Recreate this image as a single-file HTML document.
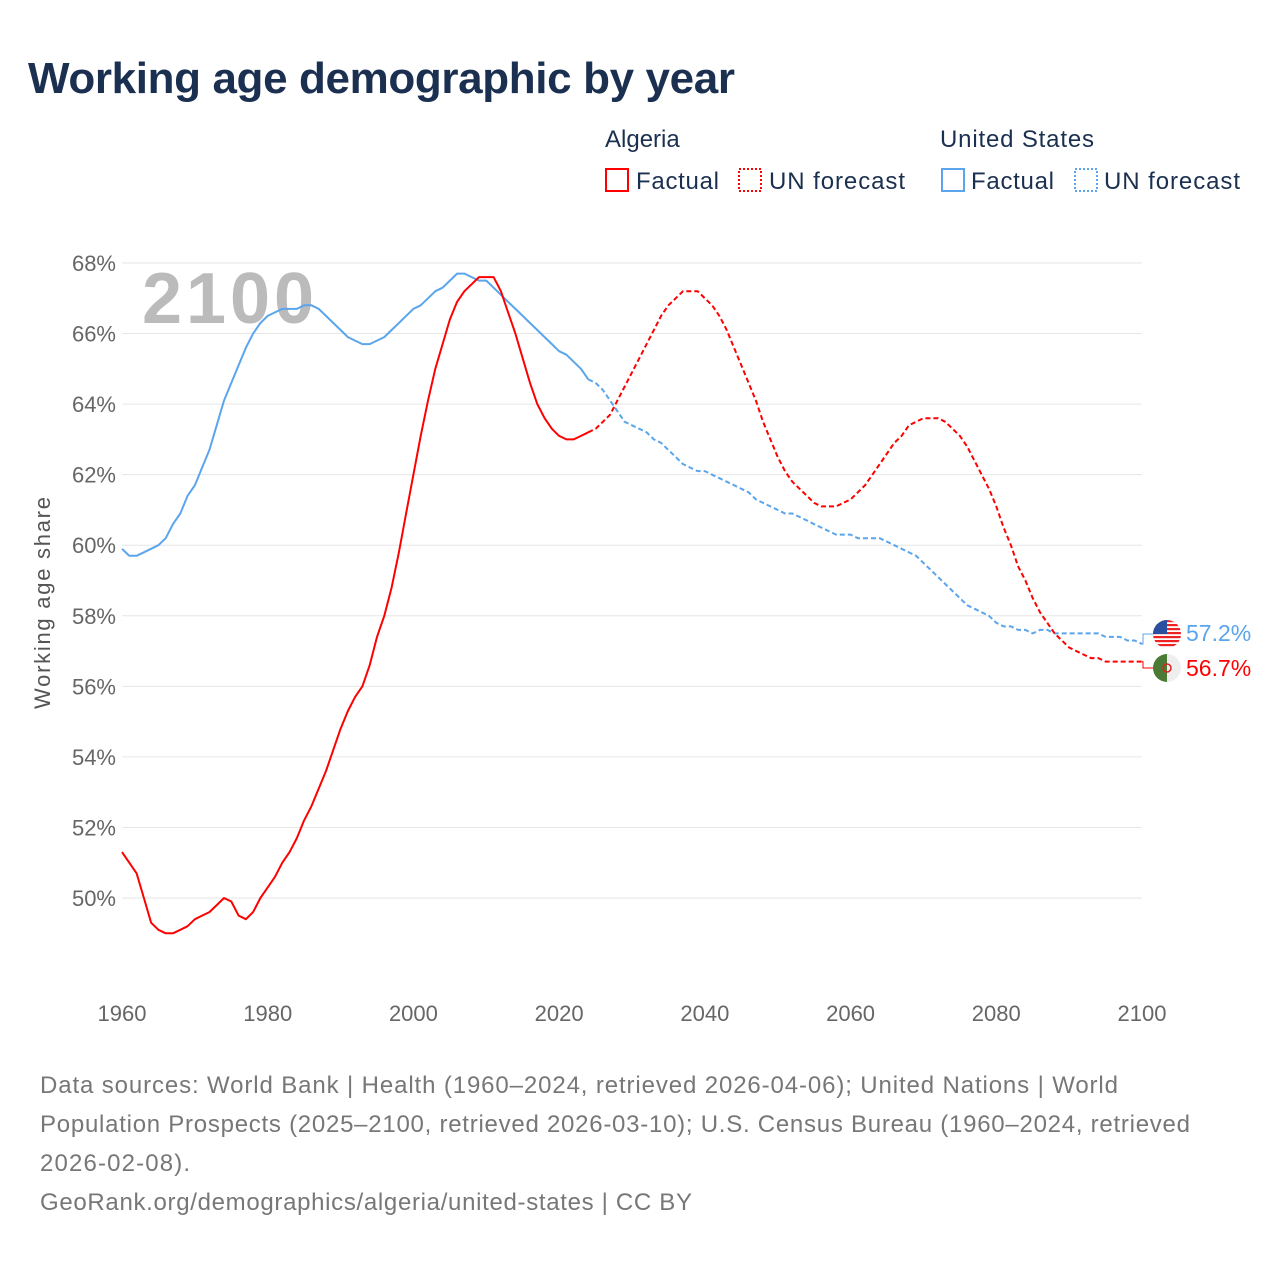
<!DOCTYPE html>
<html><head><meta charset="utf-8"><style>
body{margin:0;background:#fff;font-family:"Liberation Sans",sans-serif}
svg text{font-family:"Liberation Sans",sans-serif}
</style></head><body>
<svg id="chart" width="1280" height="1280" viewBox="0 0 1280 1280">
<text x="28" y="93" font-size="44" font-weight="bold" fill="#1b3050" textLength="707">Working age demographic by year</text>
<g font-size="24" fill="#1b3050">
<text x="605" y="147" fill="#1b3050">Algeria</text>
<text x="940" y="147" fill="#1b3050" textLength="154">United States</text>
<rect x="606" y="169" width="22" height="22" fill="none" stroke="#f00" stroke-width="2"/>
<text x="636" y="189" fill="#1b3050" textLength="83">Factual</text>
<rect x="739" y="169" width="22" height="22" fill="none" stroke="#f00" stroke-width="2" stroke-dasharray="2,2"/>
<text x="769" y="189" fill="#1b3050" textLength="136">UN forecast</text>
<rect x="942" y="169" width="22" height="22" fill="none" stroke="#5aa5ec" stroke-width="2"/>
<text x="971" y="189" fill="#1b3050" textLength="83">Factual</text>
<rect x="1075" y="169" width="22" height="22" fill="none" stroke="#5aa5ec" stroke-width="2" stroke-dasharray="2,2"/>
<text x="1104" y="189" fill="#1b3050" textLength="136">UN forecast</text>
</g>
<text x="142" y="323" font-size="72" font-weight="bold" fill="#bbb" textLength="172">2100</text>
<g id="grid"></g><g id="ticks"></g><g id="series"></g>
<text transform="translate(50,603) rotate(-90)" text-anchor="middle" font-size="22" fill="#555" textLength="212">Working age share</text>
<g font-size="24" fill="#777">
<text x="40" y="1093" fill="#777" textLength="1078">Data sources: World Bank | Health (1960–2024, retrieved 2026-04-06); United Nations | World</text>
<text x="40" y="1132" fill="#777" textLength="1150">Population Prospects (2025–2100, retrieved 2026-03-10); U.S. Census Bureau (1960–2024, retrieved</text>
<text x="40" y="1171" fill="#777" textLength="150">2026-02-08).</text>
<text x="40" y="1210" fill="#777" textLength="652">GeoRank.org/demographics/algeria/united-states | CC BY</text>
</g>
</svg>
<script>
const yTicks=[50,52,54,56,58,60,62,64,66,68];
const xTicks=[1960,1980,2000,2020,2040,2060,2080,2100];
const dzFactual=[51.3,51.0,50.7,50.0,49.3,49.1,49.0,49.0,49.1,49.2,49.4,49.5,49.6,49.8,50.0,49.9,49.5,49.4,49.6,50.0,50.3,50.6,51.0,51.3,51.7,52.2,52.6,53.1,53.6,54.2,54.8,55.3,55.7,56.0,56.6,57.4,58.0,58.8,59.8,60.9,62.0,63.1,64.1,65.0,65.7,66.4,66.9,67.2,67.4,67.6,67.6,67.6,67.2,66.6,66.0,65.3,64.6,64.0,63.6,63.3,63.1,63.0,63.0,63.1,63.2];
const dzForecast=[63.3,63.5,63.7,64.1,64.5,64.9,65.3,65.7,66.1,66.5,66.8,67.0,67.2,67.2,67.2,67.0,66.8,66.5,66.1,65.6,65.1,64.6,64.1,63.5,63.0,62.5,62.1,61.8,61.6,61.4,61.2,61.1,61.1,61.1,61.2,61.3,61.5,61.7,62.0,62.3,62.6,62.9,63.1,63.4,63.5,63.6,63.6,63.6,63.5,63.3,63.1,62.8,62.4,62.0,61.6,61.1,60.5,60.0,59.4,59.0,58.5,58.1,57.8,57.5,57.3,57.1,57.0,56.9,56.8,56.8,56.7,56.7,56.7,56.7,56.7,56.7];
const usFactual=[59.9,59.7,59.7,59.8,59.9,60.0,60.2,60.6,60.9,61.4,61.7,62.2,62.7,63.4,64.1,64.6,65.1,65.6,66.0,66.3,66.5,66.6,66.7,66.7,66.7,66.8,66.8,66.7,66.5,66.3,66.1,65.9,65.8,65.7,65.7,65.8,65.9,66.1,66.3,66.5,66.7,66.8,67.0,67.2,67.3,67.5,67.7,67.7,67.6,67.5,67.5,67.3,67.1,66.9,66.7,66.5,66.3,66.1,65.9,65.7,65.5,65.4,65.2,65.0,64.7];
const usForecast=[64.6,64.4,64.1,63.8,63.5,63.4,63.3,63.2,63.0,62.9,62.7,62.5,62.3,62.2,62.1,62.1,62.0,61.9,61.8,61.7,61.6,61.5,61.3,61.2,61.1,61.0,60.9,60.9,60.8,60.7,60.6,60.5,60.4,60.3,60.3,60.3,60.2,60.2,60.2,60.2,60.1,60.0,59.9,59.8,59.7,59.5,59.3,59.1,58.9,58.7,58.5,58.3,58.2,58.1,58.0,57.8,57.7,57.7,57.6,57.6,57.5,57.6,57.6,57.5,57.5,57.5,57.5,57.5,57.5,57.5,57.4,57.4,57.4,57.3,57.3,57.2];
const X=y=>122+(y-1960)*(1142-122)/140;
const Y=v=>898-(v-50)*(898-263)/18;
const NS='http://www.w3.org/2000/svg';
function mk(t,a,p){const e=document.createElementNS(NS,t);for(const k in a)e.setAttribute(k,a[k]);p.appendChild(e);return e;}
const grid=document.getElementById('grid'),ticks=document.getElementById('ticks'),series=document.getElementById('series');
yTicks.forEach(v=>{
 const l=mk('line',{x1:122,x2:1142,y1:Y(v),y2:Y(v),stroke:'#e6e6e6','stroke-width':1},grid);
 
 
 const t=mk('text',{x:116,y:Y(v)+8,'text-anchor':'end','font-size':22,fill:'#666'},ticks);
 t.textContent=v+'%';
 
 
});
xTicks.forEach(v=>{
 const t=mk('text',{x:X(v),y:1021,'text-anchor':'middle','font-size':22,fill:'#666'},ticks);
 t.textContent=v;
 
 
});
function line(arr,start,color,dash,name){
 const d=arr.map((v,i)=>(i?'L':'M')+X(start+i).toFixed(1)+','+Y(v).toFixed(1)).join('');
 const p=mk('path',{d:d,fill:'none',stroke:color,'stroke-width':2,'stroke-dasharray':dash||'none','stroke-linejoin':'round'},series);
 
 
}
line(usFactual,1960,'#5aa5ec',null,'us-factual-line');
line([usFactual[usFactual.length-1]].concat(usForecast),2024,'#5aa5ec','5,3','us-forecast-line');
line(dzFactual,1960,'#f00',null,'algeria-factual-line');
line([dzFactual[dzFactual.length-1]].concat(dzForecast),2024,'#f00','5,3','algeria-forecast-line');
const usEnd=usForecast[usForecast.length-1],dzEnd=dzForecast[dzForecast.length-1];
const c1=mk('path',{d:`M${X(2100)},${Y(usEnd)}H1143V634H1153`,fill:'none',stroke:'#5aa5ec','stroke-width':1},series);


const c2=mk('path',{d:`M${X(2100)},${Y(dzEnd)}H1143V668H1153`,fill:'none',stroke:'#f00','stroke-width':1},series);


const uf=mk('g',{},series);


mk('defs',{},uf).innerHTML='<clipPath id="cu"><circle cx="1167" cy="634" r="14"/></clipPath><clipPath id="ca"><circle cx="1167" cy="668" r="14"/></clipPath>';
const ug=mk('g',{'clip-path':'url(#cu)'},uf);
mk('rect',{x:1153,y:620,width:28,height:28,fill:'#fff'},ug);
for(let i=0;i<7;i++)mk('rect',{x:1153,y:620+i*4,width:28,height:2.2,fill:'#e22'},ug);
mk('rect',{x:1153,y:620,width:14,height:14,fill:'#2b4fa0'},ug);
const af=mk('g',{'clip-path':'url(#ca)'},series);


mk('rect',{x:1153,y:654,width:14,height:28,fill:'#4a7a35'},af);
mk('rect',{x:1167,y:654,width:14,height:28,fill:'#eee'},af);
mk('circle',{cx:1167,cy:668,r:4,fill:'none',stroke:'#d22','stroke-width':1.5},af);
const t1=mk('text',{x:1186,y:641,'font-size':23,fill:'#5aa5ec'},series);
t1.textContent=usEnd.toFixed(1)+'%';


const t2=mk('text',{x:1186,y:676,'font-size':23,fill:'#f00'},series);
t2.textContent=dzEnd.toFixed(1)+'%';


</script>
</body></html>
